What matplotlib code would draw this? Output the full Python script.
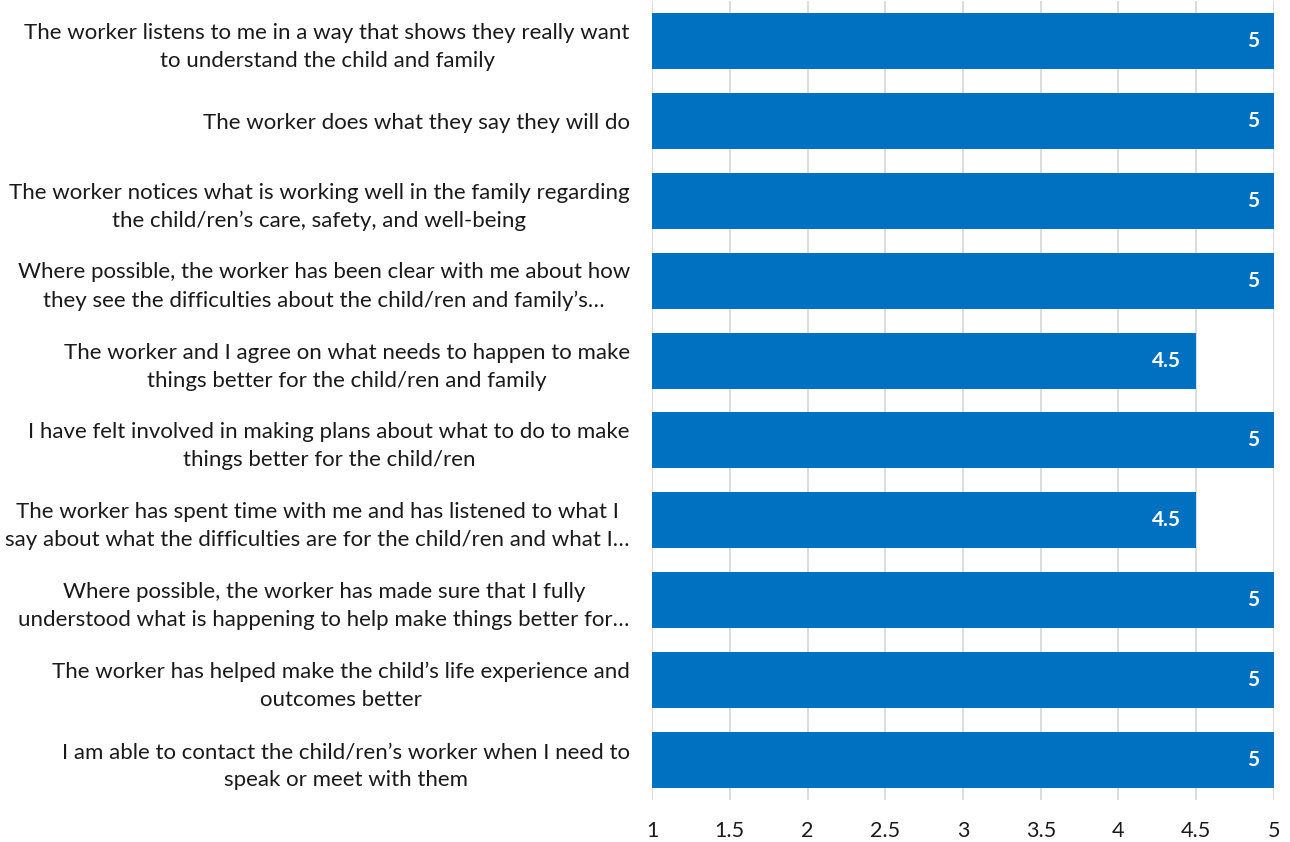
import matplotlib
matplotlib.use("Agg")
import matplotlib.pyplot as plt

statements = [
    "The worker listens to me in a way that shows they really want\nto understand the child and family",
    "The worker does what they say they will do",
    "The worker notices what is working well in the family regarding\nthe child/ren\u2019s care, safety, and well-being",
    "Where possible, the worker has been clear with me about how\nthey see the difficulties about the child/ren and family\u2019s\u2026",
    "The worker and I agree on what needs to happen to make\nthings better for the child/ren and family",
    "I have felt involved in making plans about what to do to make\nthings better for the child/ren",
    "The worker has spent time with me and has listened to what I\nsay about what the difficulties are for the child/ren and what I\u2026",
    "Where possible, the worker has made sure that I fully\nunderstood what is happening to help make things better for\u2026",
    "The worker has helped make the child\u2019s life experience and\noutcomes better",
    "I am able to contact the child/ren\u2019s worker when I need to\nspeak or meet with them",
]
scores = [5, 5, 5, 5, 4.5, 5, 4.5, 5, 5, 5]
xticks = [1, 1.5, 2, 2.5, 3, 3.5, 4, 4.5, 5]

plt.rcParams["font.family"] = ["Lato", "DejaVu Sans"]

fig = plt.figure(figsize=(12.9, 8.42), dpi=100)
ax = fig.add_axes([652 / 1290, 1 - 800 / 842, (1274 - 652) / 1290, 799 / 842])

ypos = list(range(len(scores)))
ax.barh(ypos, [s - 1 for s in scores], left=1, height=0.7, color="#0070C0", zorder=3)

for y, s in zip(ypos, scores):
    ax.annotate(f"{s:g}", (s, y), xytext=(-11, 0), textcoords="offset points",
                ha="right", va="center", color="white", fontsize=15,
                fontweight="bold", zorder=4)

ax.set_xlim(1, 5)
ax.set_ylim(len(scores) - 0.5, -0.5)
ax.set_xticks(xticks)
ax.set_xticklabels([f"{t:g}" for t in xticks], fontsize=15.5, color="#1a1a1a")
ax.set_yticks(ypos)
ax.set_yticklabels(statements, fontsize=16, color="#1a1a1a",
                   multialignment="center", linespacing=1.5)
ax.tick_params(axis="both", length=0)
ax.tick_params(axis="y", pad=16)
ax.tick_params(axis="x", pad=15)
ax.grid(axis="x", color="#D9D9D9", linewidth=1.3, zorder=0)
for sp in ax.spines.values():
    sp.set_visible(False)

fig.savefig("out.png", dpi=100)
